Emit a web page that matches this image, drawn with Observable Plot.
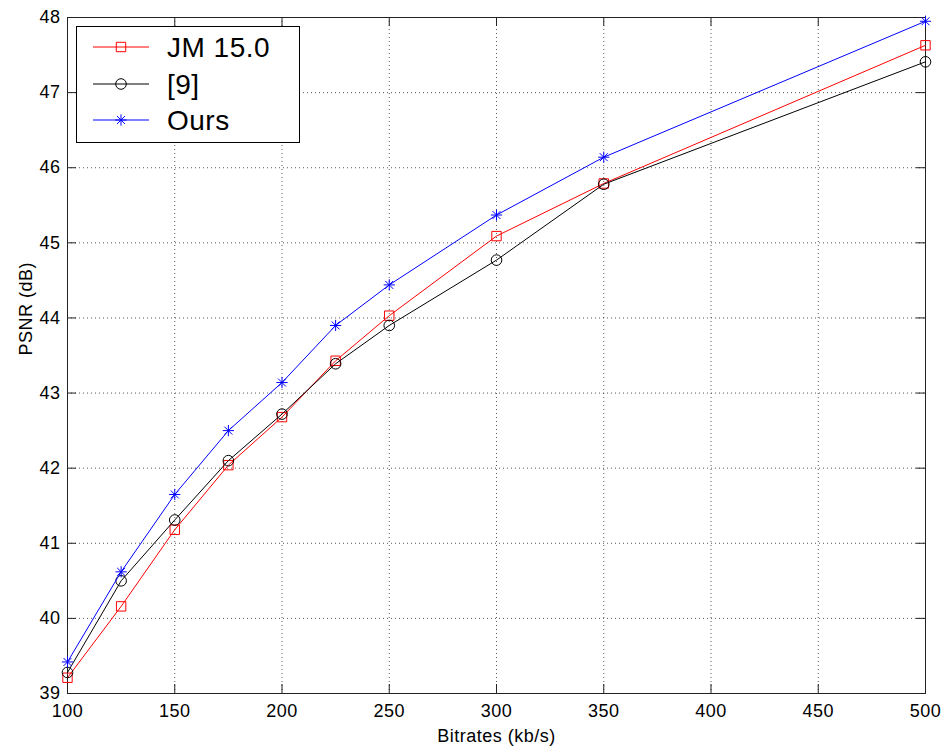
<!DOCTYPE html>
<html>
<head>
<meta charset="utf-8">
<script src="https://cdn.jsdelivr.net/npm/d3@7"></script>
<script src="https://cdn.jsdelivr.net/npm/@observablehq/plot@0.6"></script>
<style>
  html, body { margin: 0; padding: 0; background: #fff; }
  #wrap { position: relative; width: 948px; height: 753px; font-family: "Liberation Sans", Arial, sans-serif; }
  #legend { position: absolute; left: 76px; top: 26px; }
  #wrap svg text { letter-spacing: 0.5px; }
</style>
</head>
<body>
<div id="wrap"></div>
<script>
// ---- data ----
const bitrates = [100, 125, 150, 175, 200, 225, 250, 300, 350, 500];
const jm150   = [39.21, 40.16, 41.18, 42.04, 42.68, 43.43, 44.03, 45.09, 45.79, 47.63];
const ref9    = [39.28, 40.50, 41.31, 42.10, 42.72, 43.39, 43.90, 44.77, 45.78, 47.41];
const ours    = [39.42, 40.62, 41.65, 42.50, 43.14, 43.90, 44.44, 45.37, 46.14, 47.95];
const seriesNames = ["JM 15.0", "[9]", "Ours"];
const xTicks = [100, 150, 200, 250, 300, 350, 400, 450, 500];
const yTicks = [39, 40, 41, 42, 43, 44, 45, 46, 47, 48];
const xLabel = "Bitrates (kb/s)";
const yLabel = "PSNR (dB)";

// ---- layout ----
const W = 948, H = 753;
const mL = 67, mR = 23, mT = 17, mB = 60;
const pW = W - mL - mR, pH = H - mT - mB;
const tickLen = 9;
const font = "Liberation Sans, Arial, sans-serif";

// 8-armed asterisk like MATLAB '*'
const star8 = {
  draw(ctx, size) {
    const r = Math.sqrt(size / Math.PI);
    const d = r * Math.SQRT1_2;
    ctx.moveTo(-r, 0); ctx.lineTo(r, 0);
    ctx.moveTo(0, -r); ctx.lineTo(0, r);
    ctx.moveTo(-d, -d); ctx.lineTo(d, d);
    ctx.moveTo(-d, d); ctx.lineTo(d, -d);
  }
};

const series = [
  {name: seriesNames[0], values: jm150, color: "#ff0000", symbol: "square", r: 5.3},
  {name: seriesNames[1], values: ref9,  color: "#000000", symbol: "circle", r: 5.3},
  {name: seriesNames[2], values: ours,  color: "#0000ff", symbol: star8,    r: 5.6}
];
const rows = series.flatMap(s => bitrates.map((b, i) => ({series: s.name, x: b, y: s.values[i]})));

const gridStyle = {stroke: "#000", strokeOpacity: 0.65, strokeDasharray: "1,3"};
const marks = [
  Plot.gridX(xTicks.slice(1, -1), gridStyle),
  Plot.gridY(yTicks.slice(1, -1), gridStyle),
  // inward ticks on all four sides
  Plot.tickX(xTicks, {x: d => d, insetTop: pH - tickLen, stroke: "#222"}),
  Plot.tickX(xTicks, {x: d => d, insetBottom: pH - tickLen, stroke: "#222"}),
  Plot.tickY(yTicks, {y: d => d, insetRight: pW - tickLen, stroke: "#222"}),
  Plot.tickY(yTicks, {y: d => d, insetLeft: pW - tickLen, stroke: "#222"}),
  Plot.frame({stroke: "#222"}),
  Plot.axisX(xTicks, {tickSize: 0, tickPadding: 11, fontSize: 18, label: null, tickFormat: d3.format("d")}),
  Plot.axisY(yTicks, {tickSize: 0, tickPadding: 7, fontSize: 18, label: null, tickFormat: d3.format("d")}),
  Plot.text([xLabel], {text: d => d, frameAnchor: "bottom", dy: 48, fontSize: 18}),
  Plot.text([yLabel], {text: d => d, frameAnchor: "left", dx: -41, rotate: -90, fontSize: 18})
];
for (const s of series) {
  const data = rows.filter(d => d.series === s.name);
  marks.push(Plot.line(data, {x: "x", y: "y", stroke: s.color, strokeWidth: 1}));
  marks.push(Plot.dot(data, {x: "x", y: "y", stroke: s.color, symbol: () => s.symbol, r: s.r, strokeWidth: 1, fill: "none"}));
}

const chart = Plot.plot({
  width: W, height: H,
  marginLeft: mL, marginRight: mR, marginTop: mT, marginBottom: mB,
  style: {fontFamily: font, fontSize: "18px", color: "#000", background: "#fff", overflow: "visible"},
  x: {type: "linear", domain: [100, 500]},
  y: {type: "linear", domain: [39, 48]},
  symbol: {type: "identity"},
  marks
});
document.getElementById("wrap").appendChild(chart);

// ---- legend overlay ----
const lw = 224, lh = 117;
const leg = d3.select("#wrap").append("svg")
  .attr("id", "legend").attr("width", lw).attr("height", lh)
  .style("font-family", font);
leg.append("rect").attr("x", 0.5).attr("y", 0.5).attr("width", lw - 1).attr("height", lh - 1)
  .attr("fill", "#fff").attr("stroke", "#000");
const rowY = [21, 58, 94];
series.forEach((s, i) => {
  const g = leg.append("g").attr("transform", `translate(0,${rowY[i]})`);
  g.append("line").attr("x1", 17).attr("x2", 73).attr("y1", 0).attr("y2", 0)
    .attr("stroke", s.color).attr("stroke-width", 1);
  const sym = d3.symbol(typeof s.symbol === "string" ? (s.symbol === "square" ? d3.symbolSquare : d3.symbolCircle) : s.symbol,
                        s.r * s.r * Math.PI);
  g.append("path").attr("d", sym()).attr("transform", "translate(45,0)")
    .attr("fill", "none").attr("stroke", s.color).attr("stroke-width", 1);
  g.append("text").attr("x", 91).attr("y", 0).attr("dy", "0.36em")
    .attr("font-size", 28).attr("letter-spacing", "1px").attr("fill", "#000").text(s.name);
});
</script>
</body>
</html>
